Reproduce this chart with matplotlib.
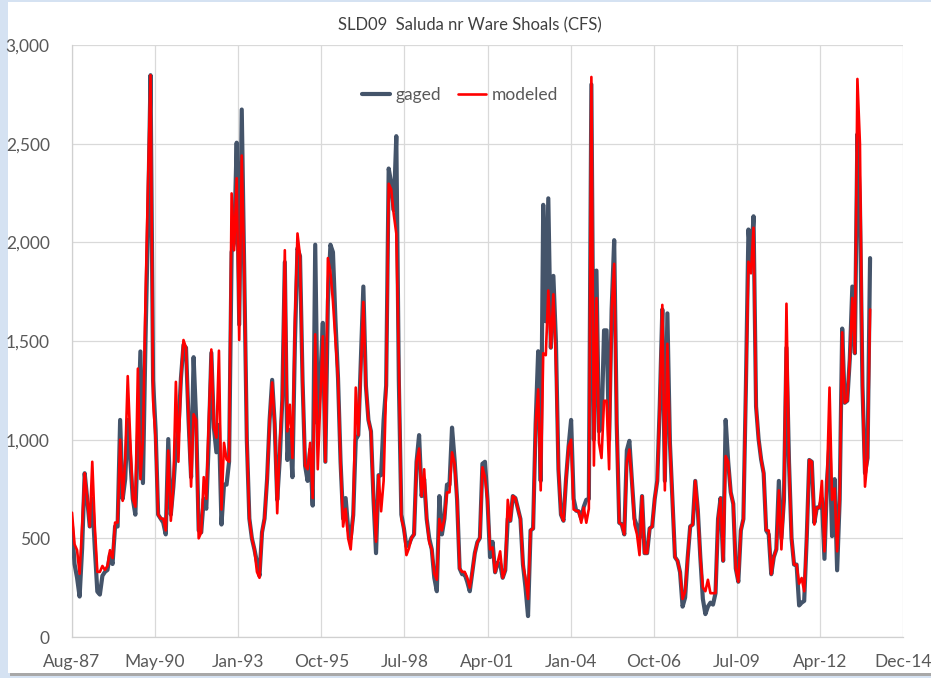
import matplotlib
matplotlib.use("Agg")
import matplotlib.pyplot as plt
from matplotlib.patches import Rectangle
from matplotlib.ticker import FuncFormatter
import numpy as np

plt.rcParams['font.family'] = ['Liberation Sans Narrow', 'Lato', 'DejaVu Sans']

title = "SLD09  Saluda nr Ware Shoals (CFS)"
series_names = ["gaged", "modeled"]
x_tick_labels = ["Aug-87", "May-90", "Jan-93", "Oct-95", "Jul-98", "Apr-01",
                 "Jan-04", "Oct-06", "Jul-09", "Apr-12", "Dec-14"]
axis_months = 328  # Aug-87 .. Dec-14

# monthly flows starting Aug-1987
gaged = [
    560, 370, 300, 205, 450, 830, 700, 560, 700, 450, 230, 215,
    310, 330, 340, 420, 370, 560, 560, 1100, 700, 800, 1100, 900,
    700, 620, 1000, 1447, 780, 1500, 2100, 2847, 1300, 1050, 620, 600,
    580, 520, 1003, 620, 760, 950, 1050, 1312, 1480, 1466, 1100, 810,
    1418, 1100, 540, 530, 700, 650, 1000, 1440, 1061, 936, 1075, 570,
    772, 772, 888, 1950, 2000, 2505, 1583, 2673, 1853, 1000, 600, 500,
    444, 380, 310, 530, 600, 800, 1100, 1303, 1080, 695, 900, 1200,
    1900, 897, 1050, 810, 1500, 1970, 1930, 1300, 868, 791, 950, 666,
    1988, 1080, 1300, 1592, 888, 1700, 1988, 1950, 1600, 1312, 888, 600,
    704, 550, 500, 618, 1000, 1023, 1400, 1776, 1274, 1100, 1042, 700,
    425, 820, 820, 1100, 1274, 2374, 2300, 2162, 2538, 1300, 620, 550,
    460, 470, 502, 520, 888, 1023, 714, 800, 598, 500, 444, 300,
    232, 714, 520, 600, 772, 772, 1061, 900, 695, 347, 318, 318,
    280, 232, 330, 425, 480, 502, 878, 888, 695, 405, 482, 328,
    376, 370, 300, 338, 600, 589, 714, 704, 650, 598, 367, 251,
    106, 540, 550, 1080, 1448, 791, 2190, 1600, 2223, 1466, 1830, 1500,
    850, 620, 589, 800, 965, 1100, 700, 640, 637, 600, 660, 695,
    700, 2800, 1000, 1857, 1042, 1060, 1554, 1554, 1000, 1660, 2011, 1080,
    579, 570, 520, 946, 994, 791, 600, 560, 500, 714, 425, 425,
    550, 560, 700, 791, 1177, 1660, 791, 1640, 984, 695, 405, 386,
    328, 154, 200, 400, 560, 570, 791, 646, 405, 193, 116, 154,
    174, 164, 222, 598, 704, 386, 1100, 888, 733, 675, 347, 280,
    540, 598, 1274, 2065, 1900, 2132, 1168, 1003, 900, 830, 540, 520,
    318, 405, 444, 791, 500, 695, 1466, 888, 502, 367, 367, 160,
    174, 183, 502, 897, 888, 579, 656, 656, 700, 396, 791, 984,
    511, 800, 338, 695, 1563, 1187, 1197, 1409, 1776, 1438, 2548, 2200,
    1274, 830, 907, 1920,
]

modeled = [
    630, 470, 440, 320, 560, 830, 700, 560, 888, 560, 330, 330,
    360, 340, 360, 440, 400, 580, 580, 1000, 690, 900, 1322, 1000,
    700, 660, 1360, 800, 1000, 1700, 2300, 2847, 1200, 1000, 620, 600,
    600, 540, 945, 589, 762, 1293, 888, 1312, 1505, 1466, 1100, 762,
    1129, 1100, 500, 530, 810, 700, 1100, 1457, 1061, 1010, 1451, 646,
    984, 900, 888, 2248, 1960, 2325, 1505, 2440, 1853, 1000, 600, 500,
    444, 330, 300, 530, 600, 800, 1100, 1290, 1080, 627, 984, 1200,
    1960, 1042, 1177, 907, 1600, 2045, 1930, 1300, 868, 850, 984, 704,
    1534, 850, 1200, 1524, 888, 1920, 1850, 1700, 1500, 1312, 888, 560,
    650, 500, 444, 618, 1264, 1023, 1350, 1698, 1274, 1100, 1042, 700,
    483, 820, 637, 791, 1274, 2297, 2268, 2142, 2045, 1400, 600, 550,
    415, 450, 502, 520, 888, 955, 714, 850, 598, 480, 444, 320,
    290, 598, 540, 600, 733, 733, 936, 880, 695, 347, 330, 330,
    300, 250, 330, 425, 480, 502, 860, 810, 695, 444, 454, 328,
    376, 434, 300, 338, 695, 589, 714, 704, 650, 598, 367, 300,
    193, 540, 550, 1080, 1255, 743, 1438, 1428, 1756, 1466, 1737, 1400,
    850, 620, 589, 800, 965, 1000, 646, 640, 637, 579, 656, 579,
    650, 2838, 869, 1718, 984, 907, 1197, 1197, 850, 1660, 1891, 1080,
    579, 570, 520, 888, 950, 791, 570, 520, 415, 714, 425, 425,
    550, 560, 700, 791, 1177, 1683, 743, 1486, 984, 695, 405, 386,
    328, 193, 230, 400, 560, 570, 791, 646, 405, 251, 232, 290,
    222, 222, 222, 598, 704, 386, 917, 888, 733, 675, 347, 280,
    540, 598, 1274, 1902, 1843, 2074, 1168, 1003, 900, 830, 540, 540,
    318, 405, 444, 743, 444, 695, 1689, 888, 502, 367, 367, 270,
    299, 232, 502, 897, 888, 570, 656, 656, 791, 434, 791, 1264,
    695, 753, 434, 695, 1544, 1187, 1197, 1409, 1718, 1438, 2828, 2500,
    1274, 762, 907, 1660,
]

months = np.arange(len(gaged))

fig = plt.figure(figsize=(9.31, 6.78), dpi=100)
fig.patch.set_facecolor('#D5E2F2')
# white chart panel with thin soft shadow
fig.add_artist(Rectangle((10/931, 2/678), 1.0, 4/678, transform=fig.transFigure,
                         facecolor='#A8A8A8', edgecolor='none', zorder=0))
fig.add_artist(Rectangle((8/931, 5/678), 1.0, 1 - 5/678 - 2/678, transform=fig.transFigure,
                         facecolor='white', edgecolor='none', zorder=0))

ax = fig.add_axes([72/931, 41/678, 831/931, 592/678])
ax.set_facecolor('white')

ax.plot(months, gaged, color='#44546A', lw=3.0, solid_joinstyle='round',
        solid_capstyle='round', label=series_names[0], zorder=3)
ax.plot(months, modeled, color='#FF0000', lw=1.9, solid_joinstyle='round',
        solid_capstyle='round', label=series_names[1], zorder=4)

ax.set_xlim(0, axis_months)
ax.set_ylim(0, 3000)
ax.set_xticks(np.linspace(0, axis_months, len(x_tick_labels)))
ax.set_xticklabels(x_tick_labels)
ax.set_yticks(np.arange(0, 3001, 500))
ax.yaxis.set_major_formatter(FuncFormatter(lambda v, p: f"{int(v):,}"))

ax.grid(True, color='#D9D9D9', lw=0.9, zorder=0)
ax.set_axisbelow(True)
for s in ['top', 'right']:
    ax.spines[s].set_visible(False)
for s in ['left', 'bottom']:
    ax.spines[s].set_color('#D0D0D0')
    ax.spines[s].set_linewidth(0.9)
ax.tick_params(axis='both', length=0, labelsize=12.5, colors='#595959')
ax.tick_params(axis='x', pad=12)
ax.tick_params(axis='y', pad=16)

fig.text(470/931, 1 - 25/678, title, ha='center', va='center',
         fontsize=12, color='#404040')

leg = ax.legend(loc='upper center', bbox_to_anchor=(0.467, 0.955), ncol=2,
                frameon=False, fontsize=12.5, handlelength=1.6,
                columnspacing=1.0, handletextpad=0.3)
for t in leg.get_texts():
    t.set_color('#595959')

fig.savefig('out.png', dpi=100, facecolor=fig.get_facecolor())
